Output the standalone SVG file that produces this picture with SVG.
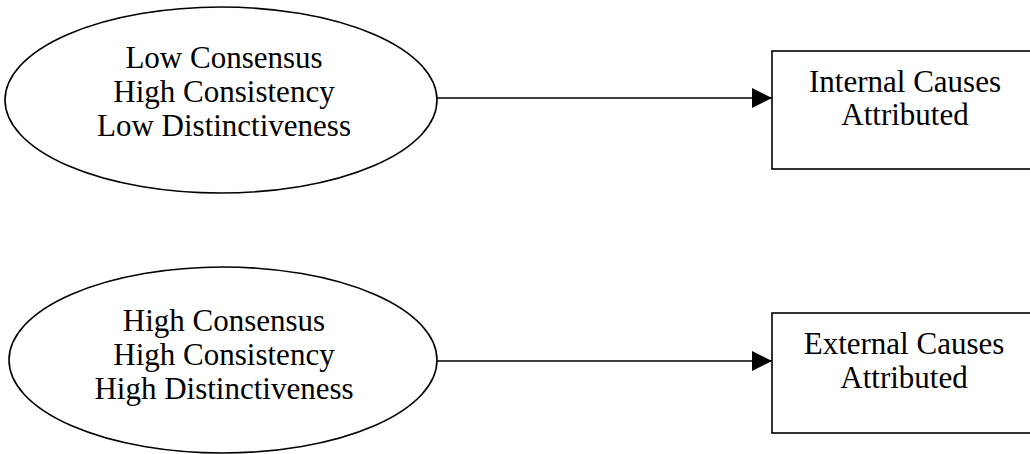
<svg xmlns="http://www.w3.org/2000/svg" width="1030" height="454" viewBox="0 0 1030 454">
  <style>
    .shape { fill: #ffffff; stroke: #000000; stroke-width: 1.6; }
    .label { font-family: "Liberation Serif", "Times New Roman", serif; font-size: 31px; fill: #000000; text-anchor: middle; }
    .link { fill: none; stroke: #000000; stroke-width: 1.6; }
  </style>
  <defs>
    <marker id="arrow" markerUnits="userSpaceOnUse" markerWidth="20" markerHeight="20" refX="20" refY="10" orient="auto">
      <path d="M0,0 L20,10 L0,20 Z" fill="#000000"/>
    </marker>
  </defs>
  <rect width="1030" height="454" fill="#ffffff"/>

  <g id="connectors">
    <line class="link" x1="437" y1="98" x2="772" y2="98" marker-end="url(#arrow)"/>
    <line class="link" x1="437" y1="361" x2="772" y2="361" marker-end="url(#arrow)"/>
  </g>

  <g id="cause-low-consensus">
    <ellipse class="shape" cx="221" cy="100" rx="216" ry="93"/>
    <text class="label" x="224" y="68">Low Consensus</text>
    <text class="label" x="224" y="102">High Consistency</text>
    <text class="label" x="224" y="136">Low Distinctiveness</text>
  </g>

  <g id="cause-high-consensus">
    <ellipse class="shape" cx="223" cy="360" rx="214" ry="93"/>
    <text class="label" x="224" y="331">High Consensus</text>
    <text class="label" x="224" y="365">High Consistency</text>
    <text class="label" x="224" y="399">High Distinctiveness</text>
  </g>

  <g id="internal-causes">
    <rect class="shape" x="772" y="51" width="270" height="118"/>
    <text class="label" x="905" y="92">Internal Causes</text>
    <text class="label" x="905" y="125">Attributed</text>
  </g>

  <g id="external-causes">
    <rect class="shape" x="772" y="313" width="270" height="120"/>
    <text class="label" x="904" y="354">External Causes</text>
    <text class="label" x="904" y="388">Attributed</text>
  </g>
</svg>
